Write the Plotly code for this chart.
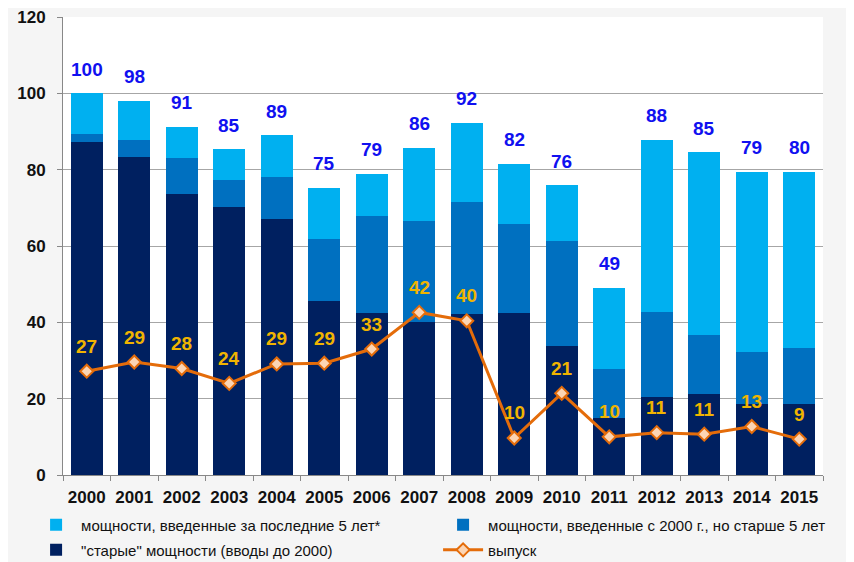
import plotly.graph_objects as go

years = ['2000', '2001', '2002', '2003', '2004', '2005', '2006', '2007',
         '2008', '2009', '2010', '2011', '2012', '2013', '2014', '2015']

# "старые" мощности (вводы до 2000)
old_cap = [87.2, 83.4, 73.7, 70.2, 67.2, 45.7, 42.5, 40.2,
           42.2, 42.5, 33.9, 15.0, 20.5, 21.3, 18.6, 18.6]
# мощности, введенные с 2000 г., но старше 5 лет
mid_cap = [2.1, 4.4, 9.3, 7.2, 11.0, 16.1, 25.3, 26.4,
           29.4, 23.3, 27.3, 12.9, 22.1, 15.5, 13.7, 14.6]
# мощности, введенные за последние 5 лет
new_cap = [10.7, 10.2, 8.3, 8.0, 10.8, 13.5, 11.1, 19.1,
           20.7, 15.8, 14.7, 21.1, 45.2, 47.7, 47.2, 46.3]
total_labels = [100, 98, 91, 85, 89, 75, 79, 86, 92, 82, 76, 49, 88, 85, 79, 80]

output = [27.2, 29.6, 27.9, 24.0, 29.1, 29.3, 33.0, 42.6,
          40.4, 9.7, 21.4, 10.0, 11.1, 10.7, 12.7, 9.4]
output_labels = [27, 29, 28, 24, 29, 29, 33, 42, 40, 10, 21, 10, 11, 11, 13, 9]

totals = [o + m + n for o, m, n in zip(old_cap, mid_cap, new_cap)]

narrow = 'Liberation Sans Narrow, Arial Narrow, Liberation Sans, Arial'

fig = go.Figure()
fig.add_trace(go.Bar(x=years, y=old_cap, name='"старые" мощности (вводы до 2000)',
                     marker=dict(color='#002060', line=dict(width=0)),
                     legend='legend2', legendrank=1))
fig.add_trace(go.Bar(x=years, y=mid_cap, name='мощности, введенные с 2000 г., но старше 5 лет',
                     marker=dict(color='#0070c0', line=dict(width=0)), legendrank=2))
fig.add_trace(go.Bar(x=years, y=new_cap, name='мощности, введенные за последние 5 лет*',
                     marker=dict(color='#00b0f0', line=dict(width=0)), legendrank=1))
fig.add_trace(go.Scatter(x=years, y=output, name='выпуск', mode='lines+markers',
                         line=dict(color='#e46c0a', width=3),
                         marker=dict(symbol='diamond', size=10, color='#fcd5b4',
                                     line=dict(color='#e46c0a', width=2)),
                         legend='legend2', legendrank=2))

# category index used for annotation position (string years would be read as numbers)
for i, (t, lab) in enumerate(zip(totals, total_labels)):
    fig.add_annotation(x=i, y=t, text='<b>%d</b>' % lab, showarrow=False, yshift=24,
                       font=dict(family=narrow, size=19, color='#1010f0'))
for i, (v, lab) in enumerate(zip(output, output_labels)):
    fig.add_annotation(x=i, y=v, text='<b>%d</b>' % lab, showarrow=False, yshift=25,
                       font=dict(family=narrow, size=19, color='#f0b400'))

leg = dict(orientation='h', x=-0.042, xanchor='left', yanchor='middle',
           entrywidth=352, entrywidthmode='pixels', bgcolor='rgba(0,0,0,0)',
           traceorder='normal', font=dict(size=15, color='#111111'), itemwidth=40)

# page body has an 8px margin, so the figure is a bit smaller than the window
fig.update_layout(
    width=846, height=554, barmode='stack', bargap=0.33,
    paper_bgcolor='#f5f5f5', plot_bgcolor='white',
    margin=dict(l=55, r=31, t=9, b=87, autoexpand=False),
    font=dict(family=narrow, color='#111111'),
    legend=dict(leg, y=-0.109),
    legend2=dict(leg, y=-0.164),
    showlegend=True,
)
fig.update_xaxes(type='category', range=[-0.5, 15.5], showline=True,
                 linecolor='#888888', linewidth=1, automargin=False,
                 ticks='outside', tickson='boundaries', ticklen=5, tickcolor='#888888',
                 ticklabelstandoff=7,
                 tickfont=dict(family=narrow, size=17, color='#111111', weight='bold'))
fig.update_yaxes(range=[0, 120], dtick=20, showgrid=True, gridcolor='#a6a6a6',
                 showline=True, linecolor='#888888', ticks='outside', ticklen=5,
                 tickcolor='#888888', zeroline=False, ticklabelstandoff=8,
                 ticklabeloverflow='allow', automargin=False,
                 tickfont=dict(family=narrow, size=17, color='#111111', weight='bold'))

fig.write_html('out.html')
